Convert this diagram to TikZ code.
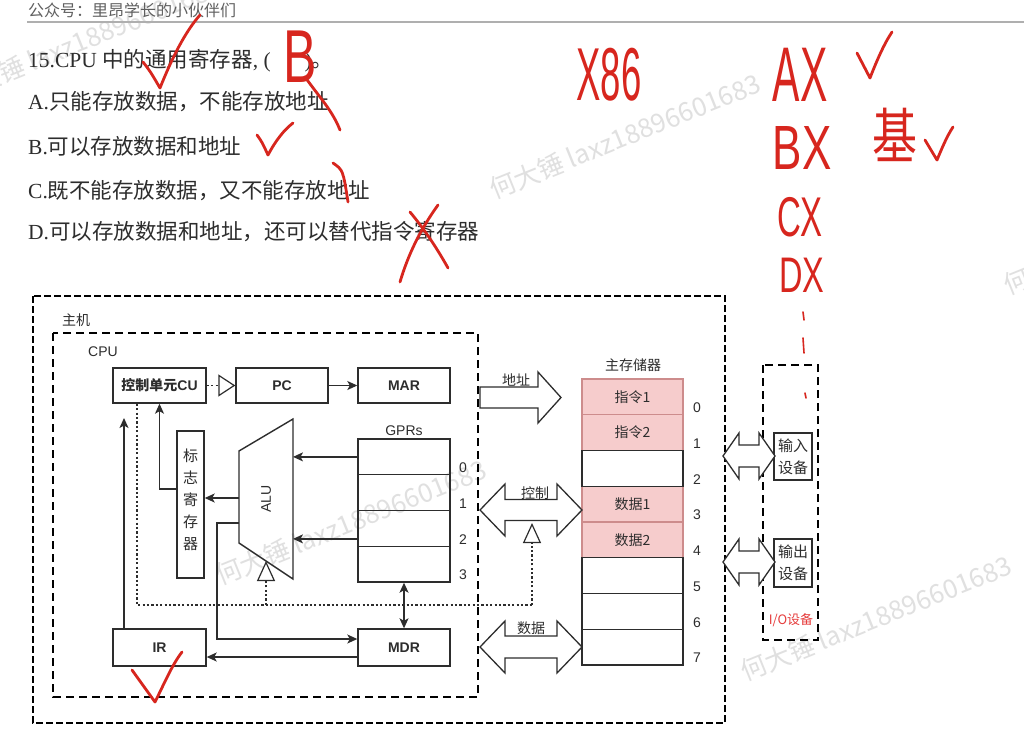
\documentclass[tikz,border=0pt]{standalone}
\usepackage{fontspec}
\usepackage{graphicx}
\setmainfont{Liberation Serif}
\setsansfont{Liberation Sans}
\newfontfamily\cjk{Noto Sans CJK SC}
\usetikzlibrary{arrows.meta,calc}
\definecolor{ink}{RGB}{45,45,45}
\definecolor{txt}{RGB}{45,45,45}
\definecolor{hand}{RGB}{215,38,30}
\definecolor{pinkc}{RGB}{246,204,204}
\definecolor{pinkd}{RGB}{205,140,140}
\definecolor{wmc}{RGB}{224,224,224}
\definecolor{hdrc}{RGB}{95,95,95}
\definecolor{rulec}{RGB}{175,175,175}
\definecolor{ioc}{RGB}{230,60,60}
\newcommand{\zh}[1]{{\cjk #1}}
\newcommand{\fs}[1]{\fontsize{#1}{#1}\selectfont}
\newcommand{\dblarr}[6]{%
  \draw[barr] (#1,#3) -- ({#1+#4},{#3-#5}) -- ({#1+#4},{#3-#6}) -- ({#2-#4},{#3-#6}) -- ({#2-#4},{#3-#5}) -- (#2,#3) -- ({#2-#4},{#3+#5}) -- ({#2-#4},{#3+#6}) -- ({#1+#4},{#3+#6}) -- ({#1+#4},{#3+#5}) -- cycle;}
\begin{document}
\begin{tikzpicture}[x=1pt,y=-1pt,
 blk/.style={draw=ink,line width=1.4pt,inner sep=0pt,text=ink,font=\sffamily\bfseries\fs{14}},
 row/.style={draw=ink,line width=1.4pt,inner sep=0pt,minimum width=92pt,minimum height=35.75pt},
 mrow/.style={draw=ink,line width=1.4pt,inner sep=0pt,minimum width=101pt,minimum height=35.75pt,font=\cjk\fs{14},text=ink},
 lbl/.style={font=\sffamily\fs{14},text=ink,inner sep=0pt},
 zhl/.style={font=\cjk\fs{14},text=ink,inner sep=0pt},
 arr/.style={draw=ink,line width=1.3pt,-{Stealth[length=10pt,width=9pt,inset=2.5pt]}},
 darr/.style={draw=ink,line width=1.3pt,{Stealth[length=10pt,width=9pt,inset=2.5pt]}-{Stealth[length=10pt,width=9pt,inset=2.5pt]}},
 dotl/.style={draw=ink,line width=1.1pt,dash pattern=on 2.2pt off 2.2pt},
 otip/.style={-{Triangle[open,length=20pt,width=18pt,fill=white,line width=1.2pt]}},
 otipw/.style={-{Triangle[open,length=17pt,width=22pt,fill=white,line width=1.2pt]}},
 barr/.style={draw=ink,line width=1.3pt,fill=white,line join=miter},
 hostbox/.style={draw=black,line width=2.6pt,dash pattern=on 7pt off 3pt},
 cpubox/.style={draw=black,line width=2.4pt,dash pattern=on 8pt off 5pt},
 hw/.style={draw=hand,line width=2.8pt,line cap=round,line join=round},
 hwt/.style={text=hand,font=\sffamily\fs{50},inner sep=0pt},
 wm/.style={text=wmc,font=\cjk\fs{26},inner sep=0pt,anchor=base west,rotate=22},
 q/.style={anchor=base west,inner sep=0pt,text=txt,font=\fs{21.5}}
]
\useasboundingbox (0,0) rectangle (1024,746);
\fill[white] (0,0) rectangle (1024,746);

% watermarks
\node[wm] (wm1) at (-45,103) {何大锤 laxz18896601683};
\node[wm] (wm2) at (494,200) {何大锤 laxz18896601683};
\node[wm] (wm3) at (220,586) {何大锤 laxz18896601683};
\node[wm] (wm4) at (745,682) {何大锤 laxz18896601683};
\node[wm] (wm5) at (1008,296) {何大锤 laxz18896601683};

% header
\node[anchor=base west,inner sep=0pt,text=hdrc,font=\cjk\fs{16}] (hdr) at (28,17) {公众号：里昂学长的小伙伴们};
\draw[rulec,line width=1.6pt] (27,22) -- (1024,22);

% question
\node[q] (q0) at (28,68) {15.CPU \zh{中的通用寄存器}, (\hspace{34pt})\zh{。}};
\node[q] (qa) at (28,110) {A.\zh{只能存放数据，不能存放地址}};
\node[q] (qb) at (28,155) {B.\zh{可以存放数据和地址}};
\node[q] (qc) at (28,198) {C.\zh{既不能存放数据，又不能存放地址}};
\node[q] (qd) at (28,239) {D.\zh{可以存放数据和地址，还可以替代指令寄存器}};

% containers
\draw[hostbox] (33,296) rectangle (725,723);
\draw[cpubox] (53,333) rectangle (478,697);
\draw[cpubox] (763,365) rectangle (818,640);
\node[zhl,anchor=west] (lhost) at (62,320) {主机};
\node[lbl,anchor=west] (lcpu) at (88,352) {CPU};

% CPU parts
\node[blk,minimum width=93pt,minimum height=35pt] (cu) at (159.5,385.5) {\zh{\bfseries 控制单元}CU};
\node[blk,minimum width=92pt,minimum height=35pt] (pc) at (282,385.5) {PC};
\node[blk,minimum width=92pt,minimum height=35pt] (mar) at (404,385.5) {MAR};
\node[blk,minimum width=93pt,minimum height=37pt] (ir) at (159.5,647.5) {IR};
\node[blk,minimum width=92pt,minimum height=37pt] (mdr) at (404,647.5) {MDR};
\node[draw=ink,line width=1.4pt,minimum width=27pt,minimum height=147pt,inner sep=0pt] (flag) at (190.5,504.5) {};
\node[font=\cjk\fontsize{15}{22}\selectfont,text=ink,align=center,inner sep=0pt] (flagt) at (190.5,500) {标\\志\\寄\\存\\器};

\node[lbl] (lgpr) at (404,431) {GPRs};
\foreach \i in {0,...,3} {
  \node[row] (g\i) at (404,{456.875+35.75*\i}) {};
  \node[lbl] (gl\i) at (463,{467.75+35.75*\i}) {\i};
}

\coordinate (aluTR) at (293,419);
\coordinate (aluTL) at (239,451);
\coordinate (aluBL) at (239,543);
\coordinate (aluBR) at (293,579);
\draw[draw=ink,line width=1.4pt] (aluTR) -- (aluTL) -- (aluBL) -- (aluBR) -- cycle;
\node[lbl,rotate=90] (alu) at (266,499) {ALU};

% memory
\node[zhl] (lmem) at (633,365) {主存储器};
\foreach \i/\t in {0/指令1,1/指令2,3/数据1,4/数据2}
  \node[mrow,fill=pinkc,draw=pinkd] (m\i) at (632.5,{396.875+35.75*\i}) {\t};
\foreach \i in {2,5,6,7}
  \node[mrow] (m\i) at (632.5,{396.875+35.75*\i}) {};
\foreach \i in {0,...,7}
  \node[lbl] (ml\i) at (697,{407.75+35.75*\i}) {\i};

% IO
\node[draw=ink,line width=1.2pt,minimum width=38pt,minimum height=47pt,inner sep=0pt,font=\cjk\fontsize{15}{22}\selectfont,align=center,text=ink] (indev) at (793,456.5) {输入\\设备};
\node[draw=ink,line width=1.2pt,minimum width=38pt,minimum height=48pt,inner sep=0pt,font=\cjk\fontsize{15}{22}\selectfont,align=center,text=ink] (outdev) at (793,563) {输出\\设备};
\node[font=\cjk\fs{13},text=ioc,inner sep=0pt] (lio) at (791,620) {I/O设备};

% buses
\draw[barr] (480,387) -- (538,387) -- (538,372) -- (561,397.5) -- (538,423) -- (538,408) -- (480,408) -- cycle;
\dblarr{480}{582}{510}{25}{26}{10.5}
\dblarr{480}{582}{647}{25}{26}{11}
\dblarr{723}{775}{456}{16}{23}{11}
\dblarr{723}{775}{562}{16}{23}{11}
\node[zhl] (laddr) at (516,380) {地址};
\node[zhl] (lctl) at (535,493) {控制};
\node[zhl] (ldata) at (531,628) {数据};

% connectors
\draw[arr] (pc) -- (mar);
\draw[dotl,otipw] (cu) -- (pc);
\draw[arr] (g0.west) -- (g0.west -| aluTR);
\draw[arr] ($(g2.west)+(0,10.5)$) -- ($(g2.west -| aluTR)+(0,10.5)$);
\coordinate (alufl) at (239,498);
\draw[arr] (alufl) -- (alufl -| flag.east);
\draw[arr] ($(flag.west)+(0,-15.5)$) -| (cu.south);
\coordinate (aluo) at (239,523);
\draw[arr] (aluo) -- ++(-22,0) |- ($(mdr.west)+(0,-8.5)$);
\draw[arr] ($(mdr.west)+(0,9.5)$) -- ($(ir.east)+(0,9.5)$);
\coordinate (irup) at (124,418);
\draw[arr] (ir.north -| irup) -- (irup);
\draw[darr] (g3) -- (mdr);

\coordinate (cdl) at (137,605);
\coordinate (cdr) at (532,605);
\coordinate (cda) at (266,605);
\coordinate (ctltip) at (532,523);
\coordinate (alubot) at (266,561);
\draw[dotl] (cu.south -| cdl) -- (cdl) -- (cdr);
\draw[dotl,otip] (cdr) -- (ctltip);
\draw[dotl,otip] (cda) -- (alubot);

% handwriting
\draw[hw] (143,62) .. controls (150,71) .. (160,88) .. controls (172,58) and (185,32) .. (200,15);
\node[hwt] (hB) at (300,57) {\scalebox{1.0}[1.5]{B}};
\draw[hw] (305,77) .. controls (320,98) and (332,110) .. (340,130);
\draw[hw] (257,135) .. controls (262,142) .. (268,155) .. controls (276,140) and (284,130) .. (293,123);
\draw[hw] (333,163) .. controls (343,170) .. (348,202);
\draw[hw] (438,205) .. controls (420,230) and (408,255) .. (400,282);
\draw[hw] (410,212) .. controls (425,230) and (438,250) .. (448,268);
\draw[hw] (132,670) -- (155,702) .. controls (165,682) and (172,665) .. (182,652);

\node[hwt] (hx86) at (609,75) {\scalebox{0.73}[1.5]{X86}};
\node[hwt] (hax) at (800,75) {\scalebox{0.82}[1.55]{AX}};
\draw[hw] (857,53) -- (870,78) .. controls (877,60) and (884,44) .. (892,32);
\node[hwt] (hbx) at (802,148) {\scalebox{0.88}[1.25]{BX}};
\node[text=hand,font=\cjk\fs{50},inner sep=0pt] (hji) at (895,135) {\scalebox{0.9}[1.2]{基}};
\draw[hw] (925,140) -- (937,160) .. controls (942,148) and (947,136) .. (953,127);
\node[hwt] (hcx) at (800,217) {\scalebox{0.66}[1.12]{CX}};
\node[hwt] (hdx) at (802,275) {\scalebox{0.65}[1.0]{DX}};
\draw[hw,line width=1.6pt] (803,312) -- (804,320);
\draw[hw,line width=1.6pt] (803,338) -- (804,353);
\draw[hw,line width=1.6pt] (805,393) -- (806,398);
\end{tikzpicture}
\end{document}
